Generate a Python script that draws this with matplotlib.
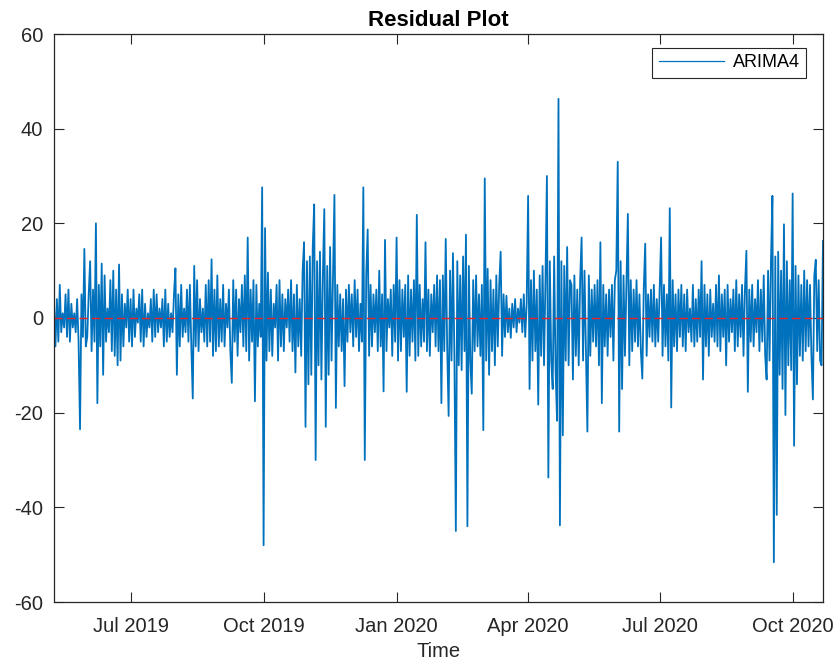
import matplotlib
matplotlib.use('Agg')
import matplotlib.pyplot as plt
import matplotlib.dates as mdates
import pandas as pd

# daily residuals, one list per month
may19 = [3, -6, 4, -5, 7, -3, 1, -2, 5, -4, 6, -5, 3, -2, 1, -3, 4, -5, -23.5, 5, -4, 14.6, -6]
jun19 = [-4, 5, 12, -7, 6, -5, 20, -18, 7, -6, 11.5, -12, 9, -5, 2, -3, 8, -7, 10, -8, 6, -10, 11.3, -9, 5, -6, 3, -2, 6, -5]
jul19 = [4, -6, 6, -4, 2, -1, 5, -5, 6, -6, 3, -4, 1, -2, 4, -5, 6, -4, 5, -3, 2, -2, 4, -6, 6, -5, 3, -4, 1, -3, 5]
aug19 = [10.5, -12, 5, -6, 7, -4, 2, -3, 6, -5, 7, -6, -17, 11, -6, 8, -7, 4, -3, 2, -5, 7, -6, 8, -5, 12.4, -8, 6, -7, 9, -6]
sep19 = [4, -5, 7, -6, 3, -2, 6, -7, -13.7, 8, -5, 6, -8, 4, -3, 7, -6, 9, -7, 17, -9, 6, -5, 8, -17.6, 7, -6, 3, -4, 27.6]
oct19 = [-48, 19, -9, 9.6, -7, 6, -8, 3, -2, 7, -9, 8, -6, 5, -7, 4, -2, 6, -5, 8, -7, 5, -11.5, 7, -6, 4, -8, 10, 16, -23, 12]
nov19 = [-14, 13, -12, 15, 24, -30, 12, -10, 14, -13, 9, 23, -23, 11, -12, 15, -9, 8, 26, -19, 7, -6, 5, -7, 4, -14.4, 6, -5, 7, -3]
dec19 = [5, -6, 8, -4, 6, -7, 3, -5, 27.6, -30, 9, 18.7, -8, 7, -6, 5, -3, 6, -7, 10, -6, 5, -15.5, 16.5, -7, 4, -2, 6, -8, 7, -5]
jan20 = [17, -9, 8, -7, 6, -4, 7, -15.6, 9, -8, 6, -5, 8, -9, 21.8, -8, 7, -6, 4, -5, 16, -7, 6, -8, 5, -3, 7, -6, 9, -7, 8]
feb20 = [-18, 9, -7, 16.7, -6, -20.7, 10, -9, 13.7, -8, -45, 12, -10, 9, -11, 13, -7, 17.6, -44, 11, -9, -16, 8, -7, 9, -6, 5, -8, 7]
mar20 = [-23.7, 29.5, -9, 10.4, -12, 8, -7, 6, -10, 9, -6, 7, 14, -8, 5, -4, 4.7, -3, 2, -4.2, 3, -2, 4, -3, 2, -1, 4, -3, 5, -4, 3]
apr20 = [25.8, -15, 8, -9, 10, -7, 6, -18.3, 9, -8, 11, -10, 8, 30, -33.7, 12, -9, -15, 13, -11, -21.7, 46.3, -43.8, 12, -24.8, 11, -9, 15, -10, 8]
may20 = [7, -13, 9, -8, 6, -10, 8, 17, -9, 10, -7, -24, 9, -8, 6, -5, 7, -6, 8, -10, 16, -18, 7, -6, 5, -8, 6, -4, 7, -9, 8]
jun20 = [10, 33, -24, 12, -15, 9, -8, 7, 22, -10, 8, -7, 6, -5, 8, -6, 5, -7, -12.8, 6, 15.7, -8, 5, -4, 6, -5, 7, -6, 4, -5]
jul20 = [6, 17, -8, 7, -6, 5, -9, 23.2, -18.9, 8, -6, 5, -7, 6, -4, 7, -6, 5, -7, 6, -3, 2, -5, 7, -6, 4, -5, 6, -4, 12, -13]
aug20 = [7, -6, 5, -8, 6, -4, 3, -5, 7, -6, 9, -7, 5, -4, 6, -10, 7, -5, 4, -3, 6, -7, 8, -6, 5, -4, 7, -8, 6, 14.2, -15.6]
sep20 = [6, -5, 7, -6, 4, -3, 8, -7, 6, -5, 9, -8, -13, 10, -9, 12, 25.8, -51.6, 13, -41.6, 14, -12, 10, -15, 19.8, -20.5, 12, -10, 8, -11]
oct20 = [26.3, -27, 11, -14, 9, -8, 7, -9, 10, -7, 8, -6, 7, -8, -17.2, 9, 12.3, -7, 8, -9, -10, 16.3]

start_date = '2019-05-09'
series_name = 'ARIMA4'
ytick_vals = [-60, -40, -20, 0, 20, 40, 60]

resid = (may19 + jun19 + jul19 + aug19 + sep19 + oct19 + nov19 + dec19 + jan20 + feb20
         + mar20 + apr20 + may20 + jun20 + jul20 + aug20 + sep20 + oct20)
dates = pd.date_range(start_date, periods=len(resid), freq='D')

plt.rcParams['font.family'] = ['Liberation Sans', 'DejaVu Sans']
plt.rcParams['axes.unicode_minus'] = False
txt = '#262626'

fig = plt.figure(figsize=(8.33, 6.64), dpi=100)
ax = fig.add_axes([54 / 833, 1 - 602 / 664, 769 / 833, 568 / 664])

ax.plot(dates, resid, color='#0072BD', linewidth=1.3, label=series_name)
ax.axhline(0, color='#E8242A', linestyle=(0, (6, 3)), linewidth=1.0)

ax.set_xlim(dates[0], dates[-1])
ax.set_ylim(-60, 60)
ax.set_yticks(ytick_vals)
ax.xaxis.set_major_locator(mdates.MonthLocator(bymonth=[1, 4, 7, 10]))
ax.xaxis.set_major_formatter(mdates.DateFormatter('%b %Y'))

ax.tick_params(direction='in', length=7, width=0.8, colors=txt, labelsize=14.5,
               top=True, right=True, pad=8)
ax.tick_params(axis='x', pad=11)
for s in ax.spines.values():
    s.set_color(txt)
    s.set_linewidth(0.9)

ax.set_title('Residual Plot', fontsize=16, fontweight='bold', color='black', pad=6)
ax.set_xlabel('Time', fontsize=14.5, color=txt, labelpad=4)

leg = ax.legend(loc='upper right', bbox_to_anchor=((806 - 54) / 769, 1 - (48 - 34) / 568),
                borderaxespad=0, fontsize=13, handlelength=3.6, fancybox=False,
                edgecolor=txt, framealpha=1, borderpad=0.35, handletextpad=0.5)
leg.get_frame().set_linewidth(0.8)
leg.get_lines()[0].set_linewidth(0.9)
for t in leg.get_texts():
    t.set_color('black')

fig.savefig('out.png', dpi=100)
